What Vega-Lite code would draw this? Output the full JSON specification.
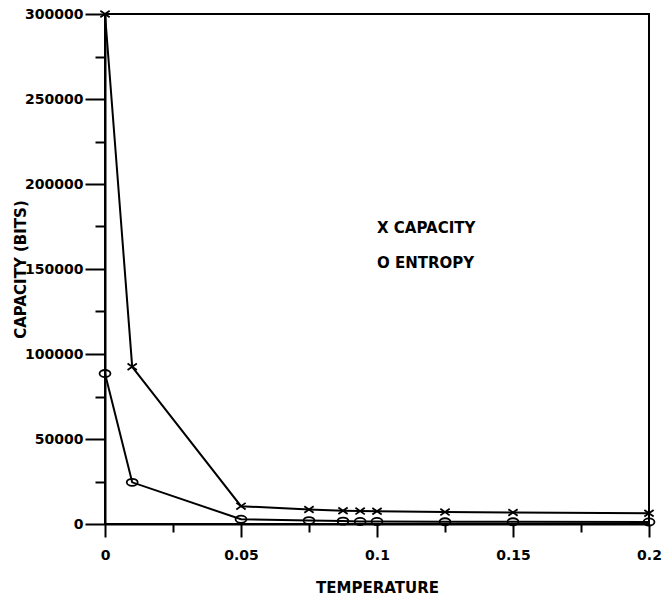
{
  "$schema": "https://vega.github.io/schema/vega-lite/v6.json",
  "width": 544,
  "height": 510,
  "autosize": "none",
  "padding": {"left": 105, "top": 14, "right": 16, "bottom": 77},
  "background": "white",
  "config": {
    "view": {"stroke": "black", "strokeWidth": 2},
    "font": "DejaVu Sans",
    "axis": {
      "domainColor": "black",
      "domainWidth": 2,
      "tickColor": "black",
      "tickWidth": 2,
      "grid": false,
      "labelFont": "DejaVu Sans",
      "labelFontWeight": "bold",
      "labelFontSize": 14,
      "labelColor": "black",
      "titleFont": "DejaVu Sans",
      "titleFontWeight": "bold",
      "titleFontSize": 15,
      "titleColor": "black"
    }
  },
  "datasets": {
    "pts": [
      {"series": "Capacity", "t": 0, "v": 300000},
      {"series": "Capacity", "t": 0.01, "v": 92500},
      {"series": "Capacity", "t": 0.05, "v": 10500},
      {"series": "Capacity", "t": 0.075, "v": 8500},
      {"series": "Capacity", "t": 0.0875, "v": 7800},
      {"series": "Capacity", "t": 0.0938, "v": 7600},
      {"series": "Capacity", "t": 0.1, "v": 7500},
      {"series": "Capacity", "t": 0.125, "v": 7000},
      {"series": "Capacity", "t": 0.15, "v": 6800},
      {"series": "Capacity", "t": 0.2, "v": 6300},
      {"series": "Entropy", "t": 0, "v": 88500},
      {"series": "Entropy", "t": 0.01, "v": 24500},
      {"series": "Entropy", "t": 0.05, "v": 2800},
      {"series": "Entropy", "t": 0.075, "v": 2000},
      {"series": "Entropy", "t": 0.0875, "v": 1700},
      {"series": "Entropy", "t": 0.0938, "v": 1500},
      {"series": "Entropy", "t": 0.1, "v": 1500},
      {"series": "Entropy", "t": 0.125, "v": 1300},
      {"series": "Entropy", "t": 0.15, "v": 1300},
      {"series": "Entropy", "t": 0.2, "v": 1200}
    ],
    "labels": [
      {"t": 0.1, "v": 174000, "label": "X CAPACITY"},
      {"t": 0.1, "v": 153500, "label": "O ENTROPY"}
    ]
  },
  "layer": [
    {
      "data": {"name": "pts"},
      "mark": {"type": "line", "color": "black", "strokeWidth": 2},
      "encoding": {
        "x": {
          "field": "t", "type": "quantitative",
          "scale": {"domain": [0, 0.2], "nice": false, "zero": false},
          "axis": {
            "values": [0, 0.025, 0.05, 0.075, 0.1, 0.125, 0.15, 0.175, 0.2],
            "labelExpr": "(round(datum.value*1000) % 50 === 0) ? format(datum.value, '~g') : ''",
            "tickSize": {"condition": {"test": "round(datum.value*1000) % 50 === 0", "value": 13}, "value": 8},
            "labelPadding": 11,
            "labelFlush": false,
            "labelOverlap": false,
            "title": "TEMPERATURE",
            "titleY": 63,
            "titleBaseline": "middle"
          }
        },
        "y": {
          "field": "v", "type": "quantitative",
          "scale": {"domain": [0, 300000], "nice": false},
          "axis": {
            "values": [0, 25000, 50000, 75000, 100000, 125000, 150000, 175000, 200000, 225000, 250000, 275000, 300000],
            "labelExpr": "datum.value % 50000 === 0 ? format(datum.value, 'd') : ''",
            "tickSize": {"condition": {"test": "datum.value % 50000 === 0", "value": 20}, "value": 10},
            "labelPadding": 2,
            "labelFlush": false,
            "labelOverlap": false,
            "title": "CAPACITY (BITS)",
            "titleX": -85,
            "titleY": 255,
            "titleAngle": -90,
            "titleAlign": "center",
            "titleBaseline": "middle"
          }
        },
        "detail": {"field": "series"}
      }
    },
    {
      "data": {"name": "pts"},
      "mark": {"type": "point", "filled": false, "color": "black", "strokeWidth": 1.8, "size": 120, "opacity": 1},
      "encoding": {
        "x": {"field": "t", "type": "quantitative"},
        "y": {"field": "v", "type": "quantitative"},
        "shape": {
          "field": "series",
          "scale": {
            "domain": ["Capacity", "Entropy"],
            "range": ["M-0.85,-0.6L0.85,0.6M-0.85,0.6L0.85,-0.6", "M-1,0A1,0.65 0 1,0 1,0A1,0.65 0 1,0 -1,0Z"]
          },
          "legend": null
        }
      }
    },
    {
      "data": {"name": "labels"},
      "mark": {"type": "text", "align": "left", "baseline": "middle", "font": "DejaVu Sans", "fontWeight": "bold", "fontSize": 15, "color": "black"},
      "encoding": {
        "x": {"field": "t", "type": "quantitative"},
        "y": {"field": "v", "type": "quantitative"},
        "text": {"field": "label"}
      }
    }
  ]
}
